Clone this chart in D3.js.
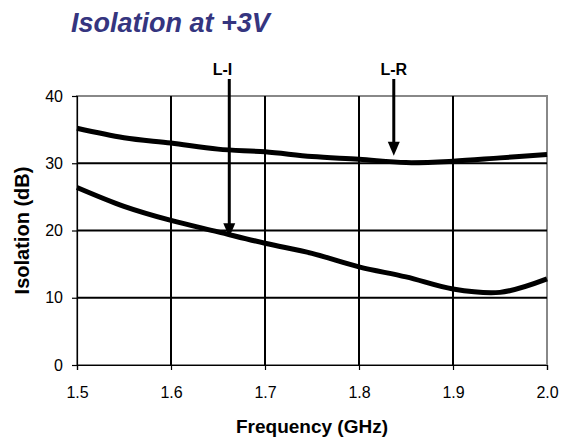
<!DOCTYPE html>
<html>
<head>
<meta charset="utf-8">
<script src="https://cdn.jsdelivr.net/npm/d3@7"></script>
<style>
	body { margin: 0; background: #fff; }
	text { font-family: "Liberation Sans", Arial, sans-serif; }
</style>
</head>
<body>
<div id="chart"></div>
<script>
const width = 571;
const height = 439;

// frequency points (GHz)
const freqs = [1.5, 1.55, 1.6, 1.65, 1.7, 1.75, 1.8, 1.85, 1.9, 1.95, 2.0];
// L-R isolation (dB)
const lrValues = [35.2, 33.8, 33.0, 32.1, 31.7, 31.0, 30.6, 30.1, 30.3, 30.8, 31.3];
// L-I isolation (dB)
const liValues = [26.4, 23.6, 21.5, 19.8, 18.1, 16.6, 14.6, 13.1, 11.3, 10.8, 12.8];

const xTicks = [1.5, 1.6, 1.7, 1.8, 1.9, 2.0];
const yTicks = [0, 10, 20, 30, 40];

// arrow annotations: label, x position (GHz), arrow tip (dB)
const arrowLabels = ["L-I", "L-R"];
const arrowFreqs = [1.662, 1.837];
const arrowTips = [19.0, 31.1];

const margin = { top: 96, right: 24, bottom: 74, left: 77 };

const svg = d3
	.select("#chart")
	.append("svg")
	.attr("width", width)
	.attr("height", height);

const x = d3.scaleLinear().domain([1.5, 2.0]).range([margin.left, width - margin.right]);
const y = d3.scaleLinear().domain([0, 40]).range([height - margin.bottom, margin.top]);

// title
svg.append("text")
	.attr("x", 71)
	.attr("y", 32)
	.style("font-size", "27px")
	.style("font-weight", "bold")
	.style("font-style", "italic")
	.attr("fill", "#35357f")
	.text("Isolation at +3V");

// plot border (grey)
svg.append("rect")
	.attr("x", x(1.5))
	.attr("y", y(40))
	.attr("width", x(2.0) - x(1.5))
	.attr("height", y(0) - y(40))
	.attr("fill", "none")
	.attr("stroke", "#888")
	.attr("stroke-width", 2);

// grid lines
svg.append("g")
	.selectAll("line")
	.data(xTicks.slice(1, -1))
	.join("line")
	.attr("x1", (d) => x(d))
	.attr("x2", (d) => x(d))
	.attr("y1", y(40))
	.attr("y2", y(0))
	.attr("stroke", "#000")
	.attr("stroke-width", 2);

svg.append("g")
	.selectAll("line")
	.data(yTicks.slice(1, -1))
	.join("line")
	.attr("x1", x(1.5))
	.attr("x2", x(2.0))
	.attr("y1", (d) => y(d))
	.attr("y2", (d) => y(d))
	.attr("stroke", "#000")
	.attr("stroke-width", 2);

// axes
const xAxis = svg.append("g")
	.attr("transform", `translate(0,${y(0)})`)
	.call(d3.axisBottom(x).tickValues(xTicks).tickFormat(d3.format(".1f")).tickSize(5).tickPadding(16));

const yAxis = svg.append("g")
	.attr("transform", `translate(${x(1.5)},0)`)
	.call(d3.axisLeft(y).tickValues(yTicks).tickSize(5).tickPadding(9));

[xAxis, yAxis].forEach((a) => {
	a.select(".domain").attr("stroke", "#000").attr("stroke-width", 1.2);
	a.selectAll(".tick line").attr("stroke", "#000").attr("stroke-width", 1.2);
	a.selectAll(".tick text")
		.style("font-size", "16px")
		.style("font-family", "'Liberation Sans', Arial, sans-serif")
		.attr("fill", "#000");
});
xAxis.selectAll(".tick text").attr("dy", "0.72em");

// axis titles
svg.append("text")
	.attr("x", (x(1.5) + x(2.0)) / 2)
	.attr("y", 433)
	.attr("text-anchor", "middle")
	.style("font-size", "19px")
	.style("font-weight", "bold")
	.text("Frequency (GHz)");

svg.append("text")
	.attr("transform", `translate(29,${(y(0) + y(40)) / 2}) rotate(-90)`)
	.attr("text-anchor", "middle")
	.style("font-size", "20px")
	.style("font-weight", "bold")
	.text("Isolation (dB)");

// curves
const line = d3
	.line()
	.x((d) => x(d[0]))
	.y((d) => y(d[1]))
	.curve(d3.curveCatmullRom.alpha(0.5));

[lrValues, liValues].forEach((vals) => {
	svg.append("path")
		.datum(freqs.map((f, i) => [f, vals[i]]))
		.attr("fill", "none")
		.attr("stroke", "#000")
		.attr("stroke-width", 5)
		.attr("stroke-linejoin", "round")
		.attr("d", line);
});

// arrows with labels
const headLen = 14;
const headHalf = 6;
arrowLabels.forEach((label, i) => {
	const ax = x(arrowFreqs[i]);
	const tipY = y(arrowTips[i]);
	svg.append("line")
		.attr("x1", ax)
		.attr("x2", ax)
		.attr("y1", 79)
		.attr("y2", tipY - headLen + 1)
		.attr("stroke", "#000")
		.attr("stroke-width", 3);
	svg.append("path")
		.attr("d", `M${ax - headHalf},${tipY - headLen} L${ax + headHalf},${tipY - headLen} L${ax},${tipY} Z`)
		.attr("fill", "#000");
	// "L-I" sits with its final I over the arrow shaft
	const endsOnI = label.endsWith("I");
	svg.append("text")
		.attr("x", endsOnI ? ax + 3 : ax)
		.attr("y", 75)
		.attr("text-anchor", endsOnI ? "end" : "middle")
		.style("font-size", "16px")
		.style("font-weight", "bold")
		.text(label);
});
</script>
</body>
</html>
